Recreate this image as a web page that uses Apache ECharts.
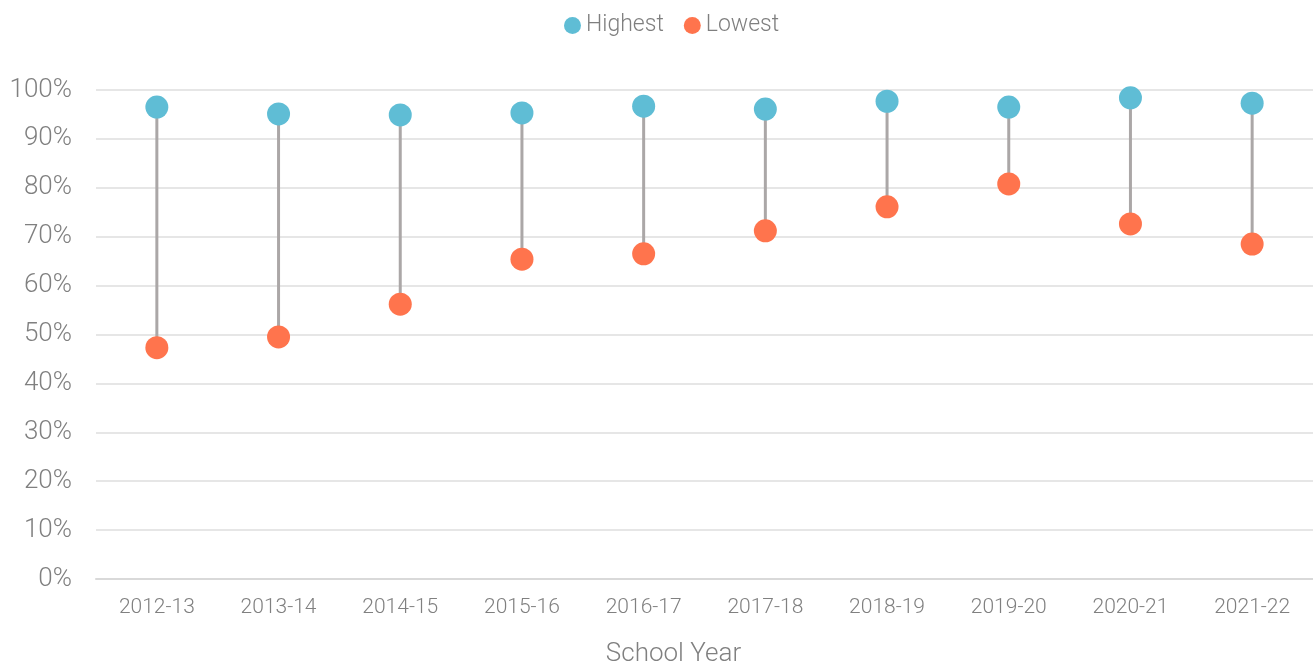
<!DOCTYPE html>
<html lang="en">
<head>
  <meta charset="UTF-8">
  <title>Highest vs Lowest</title>
  <script src="https://cdn.jsdelivr.net/npm/echarts@6/dist/echarts.min.js"></script>
</head>
<body style="margin:0;background:#fff">
  <div id="main" style="width:1313px;height:667px;"></div>
  <script type="text/javascript">
    var years = ['2012-13', '2013-14', '2014-15', '2015-16', '2016-17', '2017-18', '2018-19', '2019-20', '2020-21', '2021-22']
    var highest = [96.5, 95.1, 94.9, 95.3, 96.7, 96.1, 97.7, 96.5, 98.4, 97.3]
    var lowest = [47.3, 49.5, 56.2, 65.4, 66.5, 71.2, 76.1, 80.8, 72.6, 68.5]

    var myChart = echarts.init(document.getElementById('main'))

    // connector data: [index, low, high]
    var ranges = years.map(function (y, i) { return [i, lowest[i], highest[i]] })

    var font = 'Roboto'
    myChart.setOption({
      animation: false,
      textStyle: { fontFamily: font, fontWeight: 300 },
      legend: {
        top: 9,
        left: 559,
        itemWidth: 17,
        itemHeight: 17,
        itemGap: 20,
        textStyle: { fontSize: 23, color: '#7f7f7f', fontFamily: font, fontWeight: 300 },
        data: [{ name: 'Highest', icon: 'circle' }, { name: 'Lowest', icon: 'circle' }]
      },
      grid: { left: 96, right: 0, top: 90, bottom: 88, containLabel: false, outerBoundsMode: 'none' },
      xAxis: {
        type: 'category',
        data: years,
        name: 'School Year',
        nameLocation: 'middle',
        nameGap: 62,
        nameTextStyle: { fontSize: 26, color: '#808080', fontFamily: font, fontWeight: 300, padding: [0, 62, 0, 0] },
        axisLine: { lineStyle: { color: '#d9d9d9', width: 2 } },
        axisTick: { show: false },
        axisLabel: { fontSize: 21, color: '#808080', margin: 18, fontFamily: font, fontWeight: 300 }
      },
      yAxis: {
        type: 'value',
        min: 0,
        max: 100,
        interval: 10,
        axisLine: { show: false },
        axisTick: { show: false },
        axisLabel: { formatter: '{value}%', fontSize: 26, color: '#808080', margin: 24, fontFamily: font, fontWeight: 300 },
        splitLine: { lineStyle: { color: '#e6e6e6', width: 2 } }
      },
      series: [
        {
          type: 'custom',
          name: 'range',
          silent: true,
          z: 1,
          renderItem: function (params, api) {
            var p1 = api.coord([api.value(0), api.value(1)])
            var p2 = api.coord([api.value(0), api.value(2)])
            return {
              type: 'line',
              shape: { x1: p1[0], y1: p1[1], x2: p2[0], y2: p2[1] },
              style: { stroke: '#aba7a7', lineWidth: 3 }
            }
          },
          encode: { x: 0, y: [1, 2] },
          data: ranges
        },
        {
          type: 'scatter',
          name: 'Highest',
          symbolSize: 23,
          z: 3,
          itemStyle: { color: '#5fbdd5', opacity: 1 },
          data: highest
        },
        {
          type: 'scatter',
          name: 'Lowest',
          symbolSize: 23,
          z: 3,
          itemStyle: { color: '#ff744d', opacity: 1 },
          data: lowest
        }
      ]
    })
  </script>
</body>
</html>
